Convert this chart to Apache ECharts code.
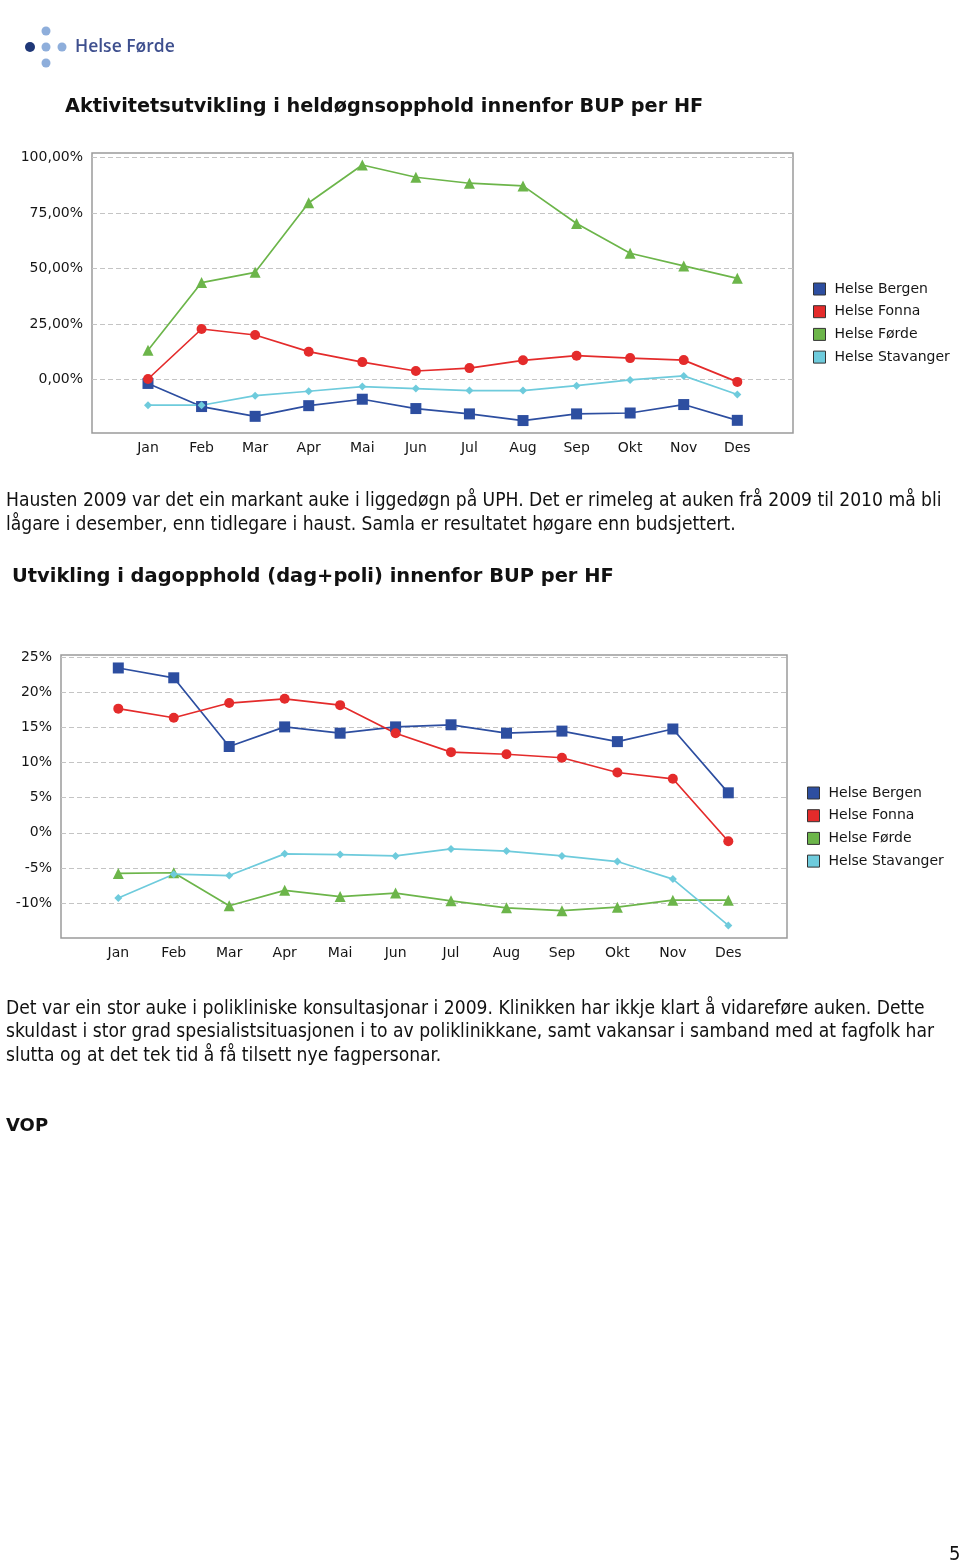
<!DOCTYPE html>
<html><head><meta charset="utf-8">
<script src="https://cdn.jsdelivr.net/npm/echarts@6/dist/echarts.min.js"></script>
<style>html,body{margin:0;padding:0;background:#fff}#c{width:960px;height:1565px}</style>
</head><body><div id="c"></div><script>
// ---- data ----
const months = ['Jan','Feb','Mar','Apr','Mai','Jun','Jul','Aug','Sep','Okt','Nov','Des'];
const seriesNames = ['Helse Bergen','Helse Fonna','Helse Førde','Helse Stavanger'];

// Chart 1: Aktivitetsutvikling i heldøgnsopphold (%)
const heldognBergen    = [-1.7,-12.1,-16.5,-11.7,-8.8,-13.0,-15.4,-18.4,-15.4,-15.0,-11.2,-18.3];
const heldognFonna     = [0.3,22.8,20.1,12.6,7.9,3.9,5.2,8.7,10.8,9.7,8.8,-1.0];
const heldognForde     = [13.2,43.7,48.3,79.6,96.6,91.1,88.4,87.2,70.3,56.9,51.2,45.6];
const heldognStavanger = [-11.5,-11.5,-7.2,-5.2,-3.1,-4.0,-4.9,-4.9,-2.7,-0.1,1.7,-6.7];
const heldognTicks = [0,25,50,75,100];

// Chart 2: Utvikling i dagopphold (dag+poli) (%)
const dagBergen    = [23.5,22.1,12.3,15.1,14.2,15.1,15.4,14.2,14.5,13.0,14.8,5.7];
const dagFonna     = [17.7,16.4,18.5,19.1,18.2,14.2,11.5,11.2,10.7,8.6,7.7,-1.2];
const dagForde     = [-5.8,-5.7,-10.4,-8.2,-9.1,-8.6,-9.7,-10.7,-11.1,-10.6,-9.6,-9.6];
const dagStavanger = [-9.3,-5.9,-6.1,-3.0,-3.1,-3.3,-2.3,-2.6,-3.3,-4.1,-6.6,-13.2];
const dagTicks = [-10,-5,0,5,10,15,20,25];

const para1 = [
  'Hausten 2009 var det ein markant auke i liggedøgn på UPH. Det er rimeleg at auken frå 2009 til 2010 må bli',
  'lågare i desember, enn tidlegare i haust. Samla er resultatet høgare enn budsjettert.'
];
const para2 = [
  'Det var ein stor auke i polikliniske konsultasjonar i 2009. Klinikken har ikkje klart å vidareføre auken. Dette',
  'skuldast i stor grad spesialistsituasjonen i to av poliklinikkane, samt vakansar i samband med at fagfolk har',
  'slutta og at det tek tid å få tilsett nye fagpersonar.'
];

// ---- styles ----
const colors = ['#2d4ea0','#e42b2b','#6cb54a','#6ecbdc'];
const symbols = ['rect','circle','triangle','diamond'];
const symSizes = [11,10,11,8];
const labelFont = {fontFamily:'DejaVu Sans', fontSize:14, color:'#151515'};
const bodyFont = '19.1px "DejaVu Sans Condensed", "DejaVu Sans"';

const chart = echarts.init(document.getElementById('c'), null, {renderer:'canvas'});

function mkSeries(data, idx, xi, yi){
  return {
    name: seriesNames[idx], type:'line', data: data,
    xAxisIndex: xi, yAxisIndex: yi,
    symbol: symbols[idx], symbolSize: symSizes[idx], showAllSymbol:true,
    lineStyle:{color:colors[idx], width:1.7},
    itemStyle:{color:colors[idx]},
    animation:false
  };
}

const gridBox1 = {left:92, top:153, width:701, height:280};
const gridBox2 = {left:61, top:655, width:726, height:283};

const texts = [];
para1.forEach((t,i)=>texts.push({type:'text', x:6, y:501+i*24, style:{text:t, font:bodyFont, fill:'#111', verticalAlign:'middle'}}));
para2.forEach((t,i)=>texts.push({type:'text', x:6, y:1009+i*23.5, style:{text:t, font:bodyFont, fill:'#111', verticalAlign:'middle'}}));
texts.push({type:'text', x:65, y:107, style:{text:'Aktivitetsutvikling i heldøgnsopphold innenfor BUP per HF', font:'bold 19.3px "DejaVu Sans"', fill:'#111', verticalAlign:'middle'}});
texts.push({type:'text', x:12, y:577, style:{text:'Utvikling i dagopphold (dag+poli) innenfor BUP per HF', font:'bold 19.45px "DejaVu Sans"', fill:'#111', verticalAlign:'middle'}});
texts.push({type:'text', x:6, y:1126, style:{text:'VOP', font:'bold 18px "DejaVu Sans"', fill:'#111', verticalAlign:'middle'}});
texts.push({type:'text', x:949, y:1555, style:{text:'5', font:'20px "DejaVu Sans Condensed", "DejaVu Sans"', fill:'#111', verticalAlign:'middle'}});
// logo
texts.push({type:'circle', shape:{cx:30, cy:47, r:5}, style:{fill:'#1f3777'}});
[[46,31],[46,47],[62,47],[46,63]].forEach(p=>texts.push({type:'circle', shape:{cx:p[0], cy:p[1], r:4.5}, style:{fill:'#8eaedb'}}));
texts.push({type:'text', x:75, y:47, style:{text:'Helse Førde', font:'600 17.5px "Open Sans"', fill:'#3e4f8e', verticalAlign:'middle'}});

const legendCommon = {
  data: seriesNames, orient:'vertical', icon:'rect', itemWidth:12, itemHeight:12, itemGap:8.7,
  padding:0, textStyle:Object.assign({}, labelFont, {padding:[0,0,0,4]}),
  itemStyle:{borderColor:'#333', borderWidth:1}, selectedMode:false
};

chart.setOption({
  animation:false,
  backgroundColor:'#fff',
  graphic: texts,
  legend: [
    Object.assign({left:813, top:282}, legendCommon),
    Object.assign({left:807, top:786}, legendCommon)
  ],
  grid: [
    Object.assign({show:true, borderColor:'#9a9a9a', borderWidth:1.5, backgroundColor:'#fff'}, gridBox1),
    {left:148, top:153, width:589.3, height:280},
    Object.assign({show:true, borderColor:'#9a9a9a', borderWidth:1.5, backgroundColor:'#fff'}, gridBox2),
    {left:118.3, top:655, width:610, height:283}
  ],
  xAxis: [
    {gridIndex:0, type:'value', show:false, min:0, max:1},
    {gridIndex:1, type:'category', data:months, boundaryGap:false,
     axisLine:{show:false}, axisTick:{show:false}, axisLabel:Object.assign({margin:8, interval:0}, labelFont),
     splitLine:{show:false}},
    {gridIndex:2, type:'value', show:false, min:0, max:1},
    {gridIndex:3, type:'category', data:months, boundaryGap:false,
     axisLine:{show:false}, axisTick:{show:false}, axisLabel:Object.assign({margin:8, interval:0}, labelFont),
     splitLine:{show:false}}
  ],
  yAxis: [
    {gridIndex:0, type:'value', min:-24, max:102,
     axisLine:{show:false}, axisTick:{show:false, customValues:heldognTicks},
     axisLabel:Object.assign({margin:9, customValues:heldognTicks, formatter:v=>v.toFixed(2).replace('.',',')+'%'}, labelFont),
     splitLine:{show:true, lineStyle:{color:'#c4c4c4', type:[5,3], width:1}}},
    {gridIndex:1, type:'value', min:-24, max:102, show:false, splitLine:{show:false}},
    {gridIndex:2, type:'value', min:-15, max:25.35,
     axisLine:{show:false}, axisTick:{show:false, customValues:dagTicks},
     axisLabel:Object.assign({margin:9, customValues:dagTicks, formatter:v=>v+'%'}, labelFont),
     splitLine:{show:true, lineStyle:{color:'#c4c4c4', type:[5,3], width:1}}},
    {gridIndex:3, type:'value', min:-15, max:25.35, show:false, splitLine:{show:false}}
  ],
  series: [
    mkSeries(heldognBergen,0,1,1), mkSeries(heldognFonna,1,1,1), mkSeries(heldognForde,2,1,1), mkSeries(heldognStavanger,3,1,1),
    mkSeries(dagBergen,0,3,3), mkSeries(dagFonna,1,3,3), mkSeries(dagForde,2,3,3), mkSeries(dagStavanger,3,3,3)
  ]
});
</script></body></html>
